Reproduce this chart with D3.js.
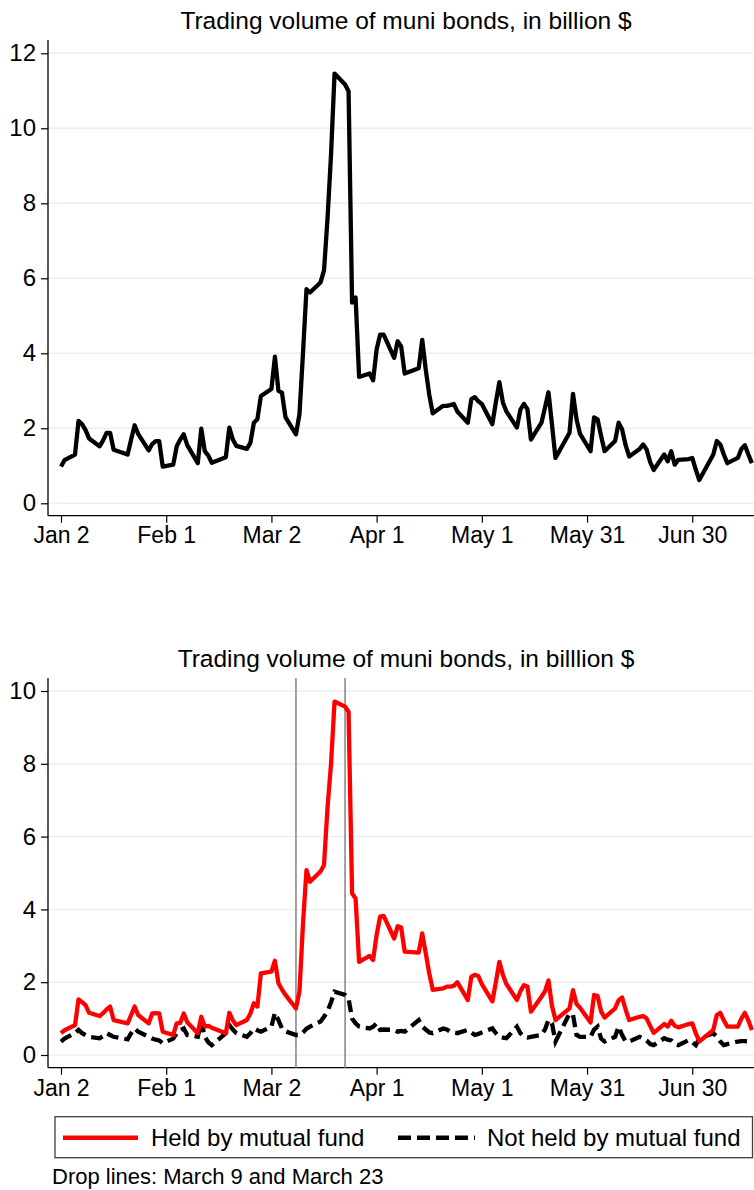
<!DOCTYPE html>
<html>
<head>
<meta charset="utf-8">
<script src="https://cdn.jsdelivr.net/npm/d3@7"></script>
<style>
  body { margin: 0; background: #fff; }
  svg { display: block; font-family: "Liberation Sans", Arial, Helvetica, sans-serif; }
</style>
</head>
<body>
<div class="container"></div>
<script>
// trading days, one line per month (2020)
const dayLabels = [
  "01-02","01-03","01-06","01-07","01-08","01-09","01-10","01-13","01-14","01-15","01-16","01-17","01-21","01-22","01-23","01-24","01-27","01-28","01-29","01-30","01-31",
  "02-03","02-04","02-05","02-06","02-07","02-10","02-11","02-12","02-13","02-14","02-18","02-19","02-20","02-21","02-24","02-25","02-26","02-27","02-28",
  "03-02","03-03","03-04","03-05","03-06","03-09","03-10","03-11","03-12","03-13","03-16","03-17","03-18","03-19","03-20","03-23","03-24","03-25","03-26","03-27","03-30","03-31",
  "04-01","04-02","04-03","04-06","04-07","04-08","04-09","04-13","04-14","04-15","04-16","04-17","04-20","04-21","04-22","04-23","04-24","04-27","04-28","04-29","04-30",
  "05-01","05-04","05-05","05-06","05-07","05-08","05-11","05-12","05-13","05-14","05-15","05-18","05-19","05-20","05-21","05-22","05-26","05-27","05-28","05-29",
  "06-01","06-02","06-03","06-04","06-05","06-08","06-09","06-10","06-11","06-12","06-15","06-16","06-17","06-18","06-19","06-22","06-23","06-24","06-25","06-26","06-29","06-30",
  "07-01","07-02","07-06","07-07","07-08","07-09","07-10","07-13","07-14","07-15","07-16","07-17"
];

// total volume, billion $
const totalVolume = [
  0.98,1.15,1.30,2.20,2.11,1.95,1.73,1.52,1.68,1.88,1.88,1.43,1.30,1.70,2.08,1.85,1.41,1.58,1.66,1.66,0.98,
  1.03,1.52,1.70,1.84,1.55,1.07,1.99,1.39,1.27,1.08,1.23,2.02,1.70,1.53,1.45,1.61,2.15,2.24,2.86,
  3.05,3.91,3.00,2.95,2.30,1.84,2.38,4.00,5.71,5.62,5.89,6.21,7.60,9.30,11.46,11.17,10.99,5.35,5.49,3.37,3.46,3.28,
  4.10,4.50,4.50,3.88,4.32,4.18,3.46,3.60,4.36,3.57,2.90,2.40,2.60,2.60,2.62,2.65,2.45,2.15,2.78,2.83,2.72,
  2.65,2.11,2.70,3.23,2.69,2.45,2.02,2.50,2.65,2.51,1.70,2.15,2.55,2.96,2.10,1.21,1.88,2.92,2.24,1.85,
  1.39,2.29,2.24,1.80,1.39,1.66,2.15,1.97,1.55,1.25,1.45,1.57,1.43,1.10,0.89,1.30,1.12,1.39,1.03,1.16,1.18,1.21,
  0.90,0.62,1.30,1.66,1.57,1.30,1.07,1.21,1.45,1.55,1.30,1.07
];

// held by mutual fund
const heldVolume = [
  0.60,0.68,0.82,1.53,1.45,1.37,1.16,1.07,1.15,1.25,1.33,0.96,0.87,1.10,1.33,1.10,0.87,1.14,1.15,1.14,0.64,
  0.55,0.87,0.88,1.14,0.90,0.60,1.05,0.78,0.80,0.75,0.60,1.16,0.95,0.82,0.96,1.14,1.42,1.33,2.24,
  2.29,2.59,1.97,1.80,1.65,1.28,1.74,3.60,5.08,4.76,5.04,5.22,6.80,8.00,9.71,9.57,9.43,4.44,4.30,2.56,2.72,2.61,
  3.30,3.80,3.82,3.20,3.54,3.50,2.84,2.81,3.34,2.80,2.25,1.79,1.83,1.88,1.88,1.90,2.00,1.51,2.15,2.20,2.17,
  1.95,1.47,2.00,2.56,2.20,1.95,1.51,1.75,1.92,1.88,1.19,1.60,1.75,2.05,1.35,0.96,1.28,1.78,1.40,1.30,
  0.89,1.65,1.62,1.20,1.03,1.28,1.50,1.58,1.25,0.96,1.05,1.07,1.00,0.80,0.61,0.85,0.78,0.94,0.80,0.76,0.85,0.87,
  0.60,0.37,0.69,1.10,1.16,0.95,0.78,0.78,1.00,1.16,0.95,0.69
];

// not held by mutual fund
const notHeldVolume = [
  0.37,0.45,0.60,0.69,0.60,0.55,0.50,0.46,0.52,0.60,0.55,0.50,0.43,0.60,0.73,0.64,0.50,0.45,0.42,0.40,0.32,
  0.45,0.60,0.68,0.73,0.55,0.50,0.92,0.50,0.35,0.27,0.60,0.82,0.70,0.60,0.50,0.60,0.73,0.68,0.64,
  0.78,1.16,0.96,0.73,0.65,0.55,0.55,0.62,0.72,0.78,0.92,1.05,1.20,1.45,1.74,1.65,1.55,1.00,0.87,0.78,0.73,0.78,
  0.87,0.69,0.70,0.69,0.64,0.66,0.64,0.96,0.78,0.70,0.62,0.60,0.73,0.70,0.64,0.62,0.60,0.69,0.62,0.55,0.58,
  0.62,0.73,0.60,0.50,0.48,0.46,0.78,0.60,0.50,0.48,0.50,0.55,0.70,0.96,0.87,0.37,1.14,1.10,0.55,0.50,
  0.50,0.70,0.78,0.45,0.37,0.50,0.78,0.55,0.37,0.37,0.50,0.45,0.40,0.30,0.27,0.46,0.42,0.40,0.30,0.27,0.41,0.35,
  0.27,0.45,0.60,0.50,0.37,0.27,0.30,0.37,0.38,0.38,0.37,0.37
];

const tickDays = ["01-02","02-01","03-02","04-01","05-01","05-31","06-30"];
const tickLabels = ["Jan 2","Feb 1","Mar 2","Apr 1","May 1","May 31","Jun 30"];
const yTicksTop = [0,2,4,6,8,10,12];
const yTicksBottom = [0,2,4,6,8,10];
const dropLineDays = ["03-09","03-23"];
const seriesNames = ["Held by mutual fund","Not held by mutual fund"];

const w = 754;
const h = 1190;
const axisX = 48;
const gridColor = "#e9f0f2";
const tickFont = "23px";

const parse = (s) => d3.utcParse("%Y-%m-%d")("2020-" + s);
const dates = dayLabels.map(parse);

const svg = d3.select(".container")
              .append("svg")
              .attr("width", w)
              .attr("height", h)
              .style("background-color", "#fff");

// same time scale for both panels
const xScale = d3.scaleUtc()
                 .domain([parse("01-02"), parse("07-17")])
                 .range([61, 61 + 197 * 3.507]);

function drawPanel(cfg) {
  const g = svg.append("g").attr("class", cfg.id);

  g.append("text")
   .attr("x", 406)
   .attr("y", cfg.titleY)
   .attr("text-anchor", "middle")
   .style("font-size", "24.5px")
   .text(cfg.title);

  // grid
  g.selectAll(".grid")
   .data(cfg.yTicks).enter()
   .append("line")
   .attr("class", "grid")
   .attr("x1", axisX).attr("x2", w)
   .attr("y1", (d) => cfg.y(d)).attr("y2", (d) => cfg.y(d))
   .style("stroke", gridColor)
   .style("stroke-width", 1.5);

  const yAxis = d3.axisLeft(cfg.y)
                  .tickValues(cfg.yTicks)
                  .tickSize(7)
                  .tickPadding(5);
  const yG = g.append("g")
              .attr("transform", `translate(${axisX}, 0)`)
              .call(yAxis);

  const xAxis = d3.axisBottom(xScale)
                  .tickValues(tickDays.map(parse))
                  .tickFormat((d, i) => tickLabels[i])
                  .tickSize(7)
                  .tickPadding(cfg.xPad);
  const xG = g.append("g")
              .attr("transform", `translate(0, ${cfg.axisY})`)
              .call(xAxis);

  [yG, xG].forEach((a) => {
    a.select(".domain").remove();
    a.selectAll("text").style("font-size", tickFont).style("font-family", "inherit").attr("fill", "#000");
    a.selectAll("line").style("stroke", "#000").style("stroke-width", 1.2);
  });
  yG.selectAll("text").style("font-size", "24px");

  // axis lines
  g.append("line")
   .attr("x1", axisX).attr("x2", axisX)
   .attr("y1", cfg.top).attr("y2", cfg.axisY)
   .style("stroke", "#000").style("stroke-width", 1.3);
  g.append("line")
   .attr("x1", axisX).attr("x2", w)
   .attr("y1", cfg.axisY).attr("y2", cfg.axisY)
   .style("stroke", "#000").style("stroke-width", 1.3);

  return g;
}

// ---- top panel
const yTop = d3.scaleLinear().domain([0, 12]).range([503.3, 53.3]);
const topPanel = drawPanel({
  id: "top-panel", title: "Trading volume of muni bonds, in billion $", titleY: 29,
  y: yTop, yTicks: yTicksTop, top: 40, axisY: 515.7, xPad: 3.5
});

const lineTop = d3.line()
                  .x((d, i) => xScale(dates[i]))
                  .y((d) => yTop(d));
topPanel.append("path")
        .datum(totalVolume)
        .attr("d", lineTop)
        .style("fill", "none")
        .style("stroke", "#000")
        .style("stroke-width", 4.3)
        .style("stroke-linejoin", "round");

// ---- bottom panel
const yBot = d3.scaleLinear().domain([0, 10]).range([1055, 691]);
const bottomPanel = drawPanel({
  id: "bottom-panel", title: "Trading volume of muni bonds, in billlion $", titleY: 667,
  y: yBot, yTicks: yTicksBottom, top: 678, axisY: 1067.7, xPad: 5
});

bottomPanel.selectAll(".dropline")
           .data(dropLineDays.map(parse)).enter()
           .append("line")
           .attr("class", "dropline")
           .attr("x1", (d) => xScale(d)).attr("x2", (d) => xScale(d))
           .attr("y1", 678).attr("y2", 1067.7)
           .style("stroke", "#8a8a8a")
           .style("stroke-width", 1.6);

const lineBot = d3.line()
                  .x((d, i) => xScale(dates[i]))
                  .y((d) => yBot(d));

bottomPanel.append("path")
           .datum(notHeldVolume)
           .attr("d", lineBot)
           .style("fill", "none")
           .style("stroke", "#000")
           .style("stroke-width", 4.3)
           .style("stroke-dasharray", "12,6");

bottomPanel.append("path")
           .datum(heldVolume)
           .attr("d", lineBot)
           .style("fill", "none")
           .style("stroke", "#ff0000")
           .style("stroke-width", 4.3)
           .style("stroke-linejoin", "round");

// legend
const legend = svg.append("g").attr("class", "legend");
legend.append("rect")
      .attr("x", 55).attr("y", 1116.7)
      .attr("width", 697.5).attr("height", 41)
      .style("fill", "#fff")
      .style("stroke", "#404040")
      .style("stroke-width", 1.3);
legend.append("line")
      .attr("x1", 63).attr("x2", 138)
      .attr("y1", 1137.7).attr("y2", 1137.7)
      .style("stroke", "#ff0000").style("stroke-width", 4.5);
legend.append("text")
      .attr("x", 151).attr("y", 1146)
      .style("font-size", "24px")
      .text(seriesNames[0]);
legend.append("line")
      .attr("x1", 398).attr("x2", 475)
      .attr("y1", 1137.7).attr("y2", 1137.7)
      .style("stroke", "#000").style("stroke-width", 4.5)
      .style("stroke-dasharray", "13,6");
legend.append("text")
      .attr("x", 487).attr("y", 1146)
      .style("font-size", "24px")
      .text(seriesNames[1]);

svg.append("text")
   .attr("x", 52).attr("y", 1183.5)
   .style("font-size", "22px")
   .text("Drop lines: March 9 and March 23");
</script>
</body>
</html>
